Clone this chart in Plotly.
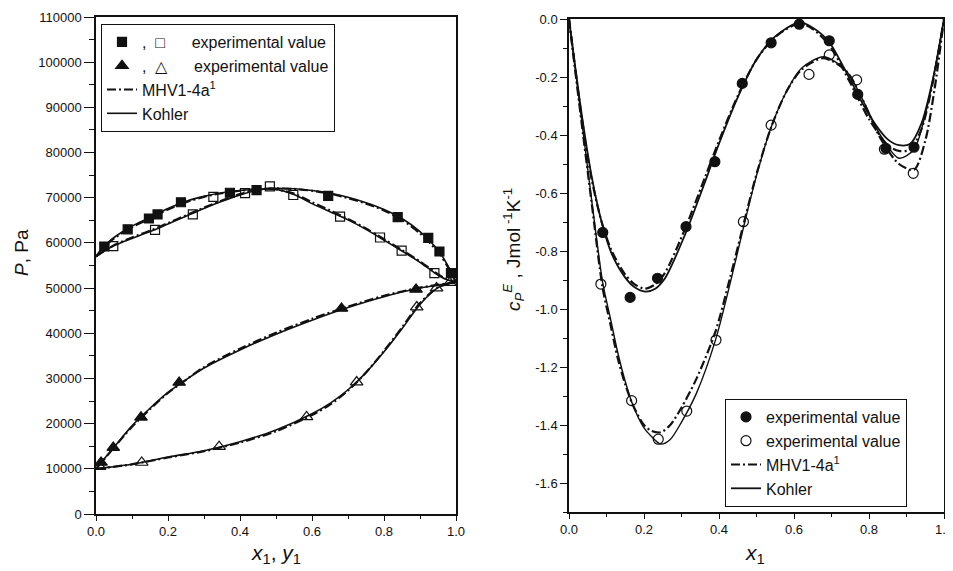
import plotly.graph_objects as go

# ---------------- Left panel: P (Pa) vs x1, y1 ----------------
sqF_x = [0.023, 0.088, 0.147, 0.171, 0.236, 0.372, 0.446, 0.645, 0.838, 0.923, 0.954, 0.986]
sqF_y = [59200, 63000, 65400, 66300, 69000, 71100, 71700, 70400, 65700, 61100, 58100, 53300]
sqO_x = [0.048, 0.164, 0.269, 0.326, 0.414, 0.483, 0.548, 0.678, 0.789, 0.849, 0.940]
sqO_y = [59300, 62900, 66300, 70200, 71000, 72500, 70600, 65800, 61200, 58300, 53300]
triF_x = [0.014, 0.048, 0.125, 0.231, 0.682, 0.889]
triF_y = [11400, 14700, 21400, 29100, 45500, 49700]
triO_x = [0.010, 0.127, 0.342, 0.585, 0.724, 0.891, 0.946, 0.983]
triO_y = [10500, 11400, 14900, 21500, 29200, 45800, 50000, 51200]

bub_x = [0, 0.02, 0.05, 0.1, 0.15, 0.2, 0.25, 0.3, 0.35, 0.4, 0.45, 0.48, 0.5, 0.55, 0.6,
         0.65, 0.7, 0.75, 0.8, 0.85, 0.9, 0.93, 0.955, 0.975, 0.99, 1.0]
bubK_y = [57000, 59000, 61200, 63700, 65600, 67600, 69200, 70300, 71100, 71600, 71900, 72050, 72100,
          72000, 71600, 71000, 70100, 68900, 67400, 65400, 62500, 60200, 57900, 55300, 53000, 51300]
bubM_y = [57000, 58900, 61000, 63500, 65400, 67400, 69000, 70200, 71000, 71550, 71900, 72000, 72050,
          71950, 71550, 70900, 69900, 68700, 67200, 65100, 62100, 59800, 57500, 55000, 52800, 51300]

dew_x = [0, 0.05, 0.1, 0.15, 0.2, 0.25, 0.3, 0.35, 0.4, 0.45, 0.48, 0.5, 0.55, 0.6, 0.65,
         0.7, 0.75, 0.79, 0.85, 0.9, 0.94, 0.97, 1.0]
dewK_y = [57000, 59400, 61000, 62500, 64200, 65900, 67600, 69200, 70600, 71700, 72000, 71900,
          70700, 68700, 66900, 65100, 63000, 61100, 58200, 55700, 53400, 52000, 51300]
dewM_y = [57000, 59500, 61200, 62700, 64400, 66100, 67800, 69400, 70800, 71800, 72000, 71850,
          70900, 69000, 67200, 65300, 63200, 61300, 58400, 55900, 53600, 52100, 51300]

lb_x = [0, 0.014, 0.05, 0.1, 0.15, 0.2, 0.25, 0.3, 0.4, 0.5, 0.6, 0.7, 0.8, 0.9, 1.0]
lbK_y = [10000, 11400, 14800, 19500, 23400, 26900, 29700, 32300, 36300, 39800, 42900, 45700, 48100, 50000, 51300]
lbM_y = [10000, 11300, 14700, 19300, 23200, 26800, 29700, 32500, 36600, 40100, 43200, 45900, 48300, 50100, 51300]

ld_x = [0, 0.1, 0.2, 0.3, 0.4, 0.5, 0.6, 0.65, 0.7, 0.75, 0.8, 0.85, 0.9, 0.95, 0.98, 1.0]
ldK_y = [10000, 11000, 12600, 14000, 16000, 18600, 22200, 24500, 27500, 31300, 35900, 41000, 46400, 50100, 51000, 51300]
ldM_y = [10000, 11000, 12500, 13900, 15800, 18300, 21900, 24200, 27300, 31300, 36100, 41300, 46700, 50200, 51000, 51300]

# ---------------- Right panel: cP^E vs x1 ----------------
cF_x = [0.090, 0.163, 0.236, 0.312, 0.389, 0.462, 0.539, 0.614, 0.694, 0.770, 0.845, 0.920]
cF_y = [-0.736, -0.960, -0.894, -0.716, -0.492, -0.222, -0.082, -0.018, -0.075, -0.260, -0.446, -0.442]
cO_x = [0.085, 0.167, 0.238, 0.314, 0.392, 0.465, 0.539, 0.640, 0.694, 0.767, 0.841, 0.918]
cO_y = [-0.914, -1.316, -1.449, -1.352, -1.107, -0.699, -0.366, -0.191, -0.124, -0.210, -0.449, -0.532]

kF_x = [0, 0.034, 0.06, 0.087, 0.114, 0.149, 0.175, 0.203, 0.23, 0.256, 0.309, 0.363, 0.40, 0.45,
        0.50, 0.55, 0.614, 0.65, 0.694, 0.75, 0.80, 0.85, 0.88, 0.91, 0.94, 0.97, 1.0]
kF_y = [0, -0.33, -0.54, -0.70, -0.81, -0.89, -0.925, -0.94, -0.93, -0.894, -0.745, -0.561, -0.43, -0.27,
        -0.14, -0.06, -0.012, -0.03, -0.08, -0.21, -0.33, -0.415, -0.435, -0.43, -0.36, -0.21, 0]
mF_y = [0, -0.34, -0.55, -0.70, -0.80, -0.88, -0.915, -0.93, -0.915, -0.875, -0.725, -0.545, -0.42, -0.265,
        -0.14, -0.062, -0.015, -0.035, -0.09, -0.22, -0.345, -0.435, -0.455, -0.45, -0.38, -0.22, 0]

kO_x = [0, 0.03, 0.06, 0.09, 0.11, 0.13, 0.15, 0.17, 0.2, 0.22, 0.245, 0.27, 0.3, 0.34, 0.39, 0.43,
        0.465, 0.5, 0.54, 0.58, 0.62, 0.68, 0.74, 0.78, 0.83, 0.88, 0.92, 0.95, 0.975, 1.0]
kO_y = [0, -0.31, -0.62, -0.91, -1.03, -1.15, -1.25, -1.33, -1.41, -1.44, -1.466, -1.45, -1.39, -1.29,
        -1.11, -0.91, -0.72, -0.54, -0.37, -0.25, -0.17, -0.13, -0.18, -0.27, -0.40, -0.48, -0.45, -0.33, -0.18, 0]
mO_y = [0, -0.32, -0.63, -0.93, -1.05, -1.17, -1.26, -1.33, -1.40, -1.42, -1.425, -1.40, -1.34, -1.24,
        -1.08, -0.89, -0.71, -0.535, -0.37, -0.25, -0.175, -0.135, -0.18, -0.27, -0.41, -0.50, -0.52, -0.42, -0.24, 0]

x_ticks = [0, 0.2, 0.4, 0.6, 0.8, 1.0]
x_ticktext = ["0.0", "0.2", "0.4", "0.6", "0.8", "1.0"]
pL_ticks = [0, 10000, 20000, 30000, 40000, 50000, 60000, 70000, 80000, 90000, 100000, 110000]
cR_ticks = [-1.6, -1.4, -1.2, -1.0, -0.8, -0.6, -0.4, -0.2, 0.0]
cR_ticktext = ["-1.6", "-1.4", "-1.2", "-1.0", "-0.8", "-0.6", "-0.4", "-0.2", "0.0"]

INK = "#111111"
FONT = "Arial, Liberation Sans, Helvetica, sans-serif"
DASHDOT = "9px,3px,2px,3px"

fig = go.Figure()

def line(x, y, xa, ya, dash, width, name=None, show=False, legend="legend", rank=1000):
    fig.add_trace(go.Scatter(x=x, y=y, xaxis=xa, yaxis=ya, mode="lines",
                             line=dict(color=INK, width=width, dash=dash, shape="spline", smoothing=0.8),
                             name=name, showlegend=show, legend=legend, legendrank=rank,
                             hoverinfo="skip"))

def pts(x, y, xa, ya, symbol, size, name=None, show=False, legend="legend", rank=1000):
    fig.add_trace(go.Scatter(x=x, y=y, xaxis=xa, yaxis=ya, mode="markers",
                             marker=dict(symbol=symbol, size=size, color=INK,
                                         line=dict(color=INK, width=1.2)),
                             name=name, showlegend=show, legend=legend, legendrank=rank))

# left curves
line(bub_x, bubM_y, "x", "y", DASHDOT, 2.2, "MHV1-4a<sup>1</sup>", True, "legend", 3)
line(dew_x, dewM_y, "x", "y", DASHDOT, 2.2)
line(lb_x, lbM_y, "x", "y", DASHDOT, 2.2)
line(ld_x, ldM_y, "x", "y", DASHDOT, 2.2)
line(bub_x, bubK_y, "x", "y", "solid", 1.6, "Kohler", True, "legend", 4)
line(dew_x, dewK_y, "x", "y", "solid", 1.6)
line(lb_x, lbK_y, "x", "y", "solid", 1.6)
line(ld_x, ldK_y, "x", "y", "solid", 1.6)
pts(sqF_x, sqF_y, "x", "y", "square", 9, ",  \u25a1      experimental value", True, "legend", 1)
pts(sqO_x, sqO_y, "x", "y", "square-open", 9)
pts(triF_x, triF_y, "x", "y", "triangle-up", 11, ",  \u25b3      experimental value", True, "legend", 2)
pts(triO_x, triO_y, "x", "y", "triangle-up-open", 11)

# right curves
line(kF_x, mF_y, "x2", "y2", DASHDOT, 2.2, "MHV1-4a<sup>1</sup>", True, "legend2", 3)
line(kO_x, mO_y, "x2", "y2", DASHDOT, 2.2)
line(kF_x, kF_y, "x2", "y2", "solid", 1.8, "Kohler", True, "legend2", 4)
line(kO_x, kO_y, "x2", "y2", "solid", 1.4)
pts(cF_x, cF_y, "x2", "y2", "circle", 10, "experimental value", True, "legend2", 1)
pts(cO_x, cO_y, "x2", "y2", "circle-open", 10, "experimental value", True, "legend2", 2)

# The page body adds an 8 px offset; size the figure to fit the 953x571 window.
OFF = 8
W, H = 953 - OFF, 571 - OFF

def px(xp):
    return (xp - OFF) / W

def py(yp):
    return 1 - (yp - OFF) / H

axis_common = dict(showline=True, linecolor=INK, linewidth=1.5, mirror=True, ticks="outside",
                   tickwidth=1.3, tickcolor=INK, showgrid=False, zeroline=False,
                   automargin=False, ticklabeloverflow="allow",
                   tickfont=dict(family=FONT, size=13, color=INK))

fig.update_layout(
    width=W, height=H, margin=dict(l=0, r=0, t=0, b=0, autoexpand=False),
    paper_bgcolor="white", plot_bgcolor="white",
    font=dict(family=FONT, color=INK),
    xaxis=dict(domain=[px(96), px(456)], range=[0, 1.0], anchor="y", tickvals=x_ticks, ticklen=5,
               ticktext=x_ticktext, minor=dict(dtick=0.1, ticklen=3, ticks="outside", tickcolor=INK),
               **axis_common),
    yaxis=dict(domain=[py(514), py(17)], range=[0, 110000], anchor="x", tickvals=pL_ticks, ticklen=10,
               tickformat="d", minor=dict(dtick=5000, ticklen=5, ticks="outside", tickcolor=INK),
               **axis_common),
    xaxis2=dict(domain=[px(569), px(944)], range=[0, 1.0], anchor="y2", tickvals=x_ticks, ticklen=5,
                ticktext=x_ticktext, minor=dict(dtick=0.1, ticklen=3, ticks="outside", tickcolor=INK),
                **axis_common),
    yaxis2=dict(domain=[py(512), py(19)], range=[-1.7, 0.0], anchor="x2", tickvals=cR_ticks, ticklen=7,
                ticktext=cR_ticktext, minor=dict(dtick=0.1, ticklen=4, ticks="outside", tickcolor=INK),
                **axis_common),
    legend=dict(x=px(101), y=py(24), xanchor="left", yanchor="top", bgcolor="white",
                bordercolor=INK, borderwidth=1, font=dict(family=FONT, size=16, color=INK),
                traceorder="normal", tracegroupgap=0, itemwidth=30),
    legend2=dict(x=px(725), y=py(507), xanchor="left", yanchor="bottom", bgcolor="white",
                 bordercolor=INK, borderwidth=1, font=dict(family=FONT, size=16, color=INK),
                 traceorder="normal", tracegroupgap=0, itemwidth=30),
    showlegend=True,
)

annots = [
    dict(x=px(22), y=py(253), text="<i>P</i>, Pa", textangle=-90, size=19),
    dict(x=px(276), y=py(554), text="<i>x</i><sub>1</sub>, <i>y</i><sub>1</sub>", textangle=0, size=21),
    dict(x=px(513), y=py(250),
         text="<i>c</i><sub><i>P</i></sub><sup><i>E</i></sup> , Jmol<sup> -1</sup>K<sup>-1</sup>",
         textangle=-90, size=19),
    dict(x=px(755), y=py(554), text="<i>x</i><sub>1</sub>", textangle=0, size=21),
]
for a in annots:
    fig.add_annotation(x=a["x"], y=a["y"], xref="paper", yref="paper", text=a["text"],
                       textangle=a["textangle"], showarrow=False, xanchor="center", yanchor="middle",
                       font=dict(family=FONT, size=a["size"], color=INK))

fig.write_html("out.html")
